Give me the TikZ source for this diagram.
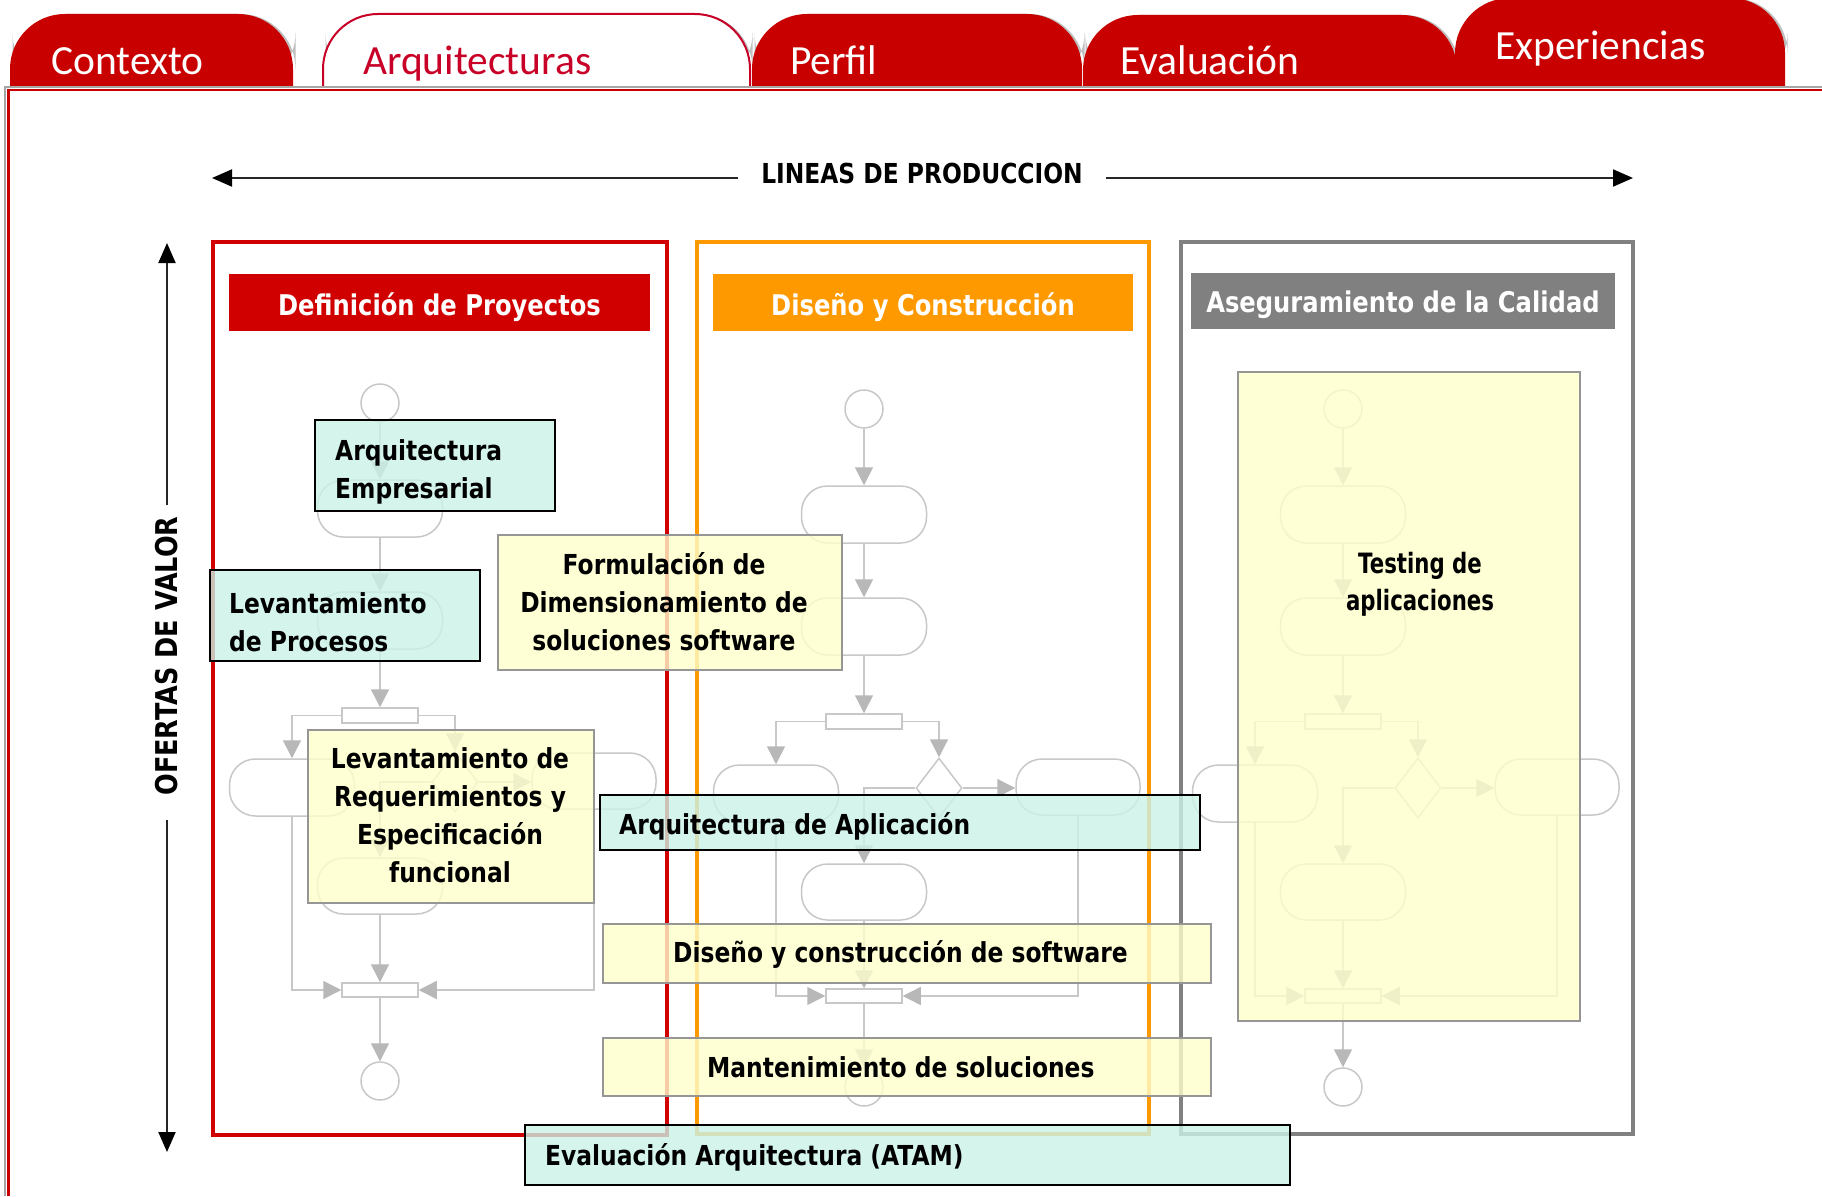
\documentclass[tikz,border=0pt]{standalone}
\usepackage{fontspec}
\setmainfont{DejaVu Sans}
\newfontfamily\tah[FakeStretch=0.85]{DejaVu Sans}
\newfontfamily\tahn[FakeStretch=0.76]{DejaVu Sans}
\newfontfamily\calf{Carlito}
\usetikzlibrary{arrows.meta,shapes.geometric}
\definecolor{tabred}{RGB}{200,0,0}
\definecolor{arqred}{RGB}{200,0,40}
\definecolor{lanered}{RGB}{208,0,0}
\definecolor{orng}{RGB}{255,153,0}
\definecolor{lanegray}{RGB}{128,128,128}
\definecolor{mint}{RGB}{202,242,232}
\definecolor{paleyel}{RGB}{255,255,204}
\definecolor{boxgray}{RGB}{150,150,150}
\definecolor{flowgray}{RGB}{200,200,200}
\definecolor{arrgray}{RGB}{184,184,184}
\definecolor{tabshadow}{RGB}{190,190,190}
\tikzset{
  flowline/.style={draw=flowgray, line width=1.5pt},
  flowarr/.style={flowline, -{Triangle[length=18pt,width=18pt,color=arrgray]}},
  act/.style={draw=flowgray, line width=1.5pt, rounded corners=26pt, minimum width=125pt, minimum height=57pt, inner sep=0},
  startc/.style={circle, draw=flowgray, line width=1.5pt, minimum size=38pt, inner sep=0},
  bar/.style={rectangle, draw=flowgray, fill=white, line width=1.5pt, minimum width=76pt, minimum height=15pt, inner sep=0},
  dec/.style={diamond, draw=flowgray, line width=1.5pt, minimum width=46pt, minimum height=60pt, inner sep=0},
  lane/.style={rectangle, line width=4pt, inner sep=0},
  hdr/.style={rectangle, inner sep=0, text=white, text depth=0pt, font=\tah\bfseries\fontsize{28.5}{34}\selectfont},
  mintbox/.style={rectangle, draw=black, line width=2.5pt, fill=mint, fill opacity=0.8, inner sep=0},
  yelbox/.style={rectangle, draw=boxgray, line width=2pt, fill=paleyel, fill opacity=0.8, inner sep=0},
  lbl/.style={inner sep=0, text=black, font=\tah\bfseries\fontsize{27.5}{38}\selectfont},
  tablbl/.style={inner sep=0, font=\calf\fontsize{41.5}{48}\selectfont},
  bigarr/.style={draw=black!85, line width=2pt, -{Triangle[length=20pt,width=17pt,color=black]}},
  axislbl/.style={inner sep=0, text=black, font=\tah\bfseries\fontsize{27.5}{32}\selectfont}
}
\newcommand\actflow[3]{%
\begin{scope}[shift={(#2,#3)}, name prefix=#1-]
  \node[startc] (s) at (0,409) {};
  \node[act] (a1) at (0,514.5) {};
  \node[act] (a2) at (0,626.5) {};
  \node[bar] (fk) at (0,721.5) {};
  \node[act] (la) at (-88,793.5) {};
  \node[dec] (dm) at (75,788) {};
  \node[act, minimum width=124pt, minimum height=56pt] (ra) at (214,787) {};
  \node[act, minimum height=56pt] (lo) at (0,892) {};
  \node[bar, minimum height=14pt] (jn) at (0,996) {};
  \node[startc] (e) at (0,1087) {};
  \draw[flowarr] (s) -- (a1);
  \draw[flowarr] (a1) -- (a2);
  \draw[flowarr] (a2) -- (fk);
  \draw[flowarr] (fk.west) -| (la.north);
  \draw[flowarr] (fk.east) -| (dm.north);
  \draw[flowarr] (dm.east) -- (dm.east -| ra.west);
  \draw[flowarr] (dm.west) -| (lo.north);
  \draw[flowarr] (la.south) |- (jn.west);
  \draw[flowarr] (ra.south) |- (jn.east);
  \draw[flowarr] (lo) -- (jn);
  \draw[flowarr] (jn) -- (e);
\end{scope}}
\newcommand\tabpath[4]{%
  \fill[tabshadow, rounded corners=55pt] (#1+2.5,88) -- (#1+2.5,#3) -- (#2+2.5,#3) -- (#2+2.5,88) -- cycle;
  \path[#4, rounded corners=55pt] (#1,88) -- (#1,#3) -- (#2,#3) -- (#2,88);}
\begin{document}
\begin{tikzpicture}[x=1pt,y=-1pt]
\useasboundingbox (0,0) rectangle (1822,1196);
\fill[white] (0,0) rectangle (1822,1196);

% tabs
\tabpath{10}{293}{14}{fill=tabred}
\tabpath{323}{750}{14}{fill=white, draw=arqred, line width=2pt}
\tabpath{752}{1082}{14}{fill=tabred}
\tabpath{1083}{1457}{15}{fill=tabred}
\tabpath{1455}{1785}{-2}{fill=tabred}
\node[tablbl, text=white, anchor=base west] (t1) at (51,75) {Contexto};
\node[tablbl, text=arqred, anchor=base west] (t2) at (363,75) {Arquitecturas};
\node[tablbl, text=white, anchor=base west] (t3) at (790,75) {Perfil};
\node[tablbl, text=white, anchor=base west] (t4) at (1120,75) {Evaluación};
\node[tablbl, text=white, anchor=base west] (t5) at (1495,60) {Experiencias};

% frame
\draw[gray!70, line width=2.5pt] (5,1196) -- (5,87) -- (1822,87);
\draw[tabred, line width=2.5pt] (8.5,1196) -- (8.5,90) -- (1822,90);

% axes
\node[axislbl, inner xsep=23pt] (lineas) at (922,173.5) {LINEAS DE PRODUCCION};
\coordinate (lpL) at (212,178);
\coordinate (lpR) at (1633,178);
\draw[bigarr] (lineas.west |- lpL) -- (lpL);
\draw[bigarr] (lineas.east |- lpR) -- (lpR);
\node[axislbl, rotate=90, font=\tah\bfseries\fontsize{30}{34}\selectfont] (ofertas) at (167,656) {OFERTAS DE VALOR};
\coordinate (ovT) at (167,505);
\coordinate (ovTip) at (167,243);
\coordinate (ovB) at (167,820);
\coordinate (ovBtip) at (167,1152);
\draw[bigarr] (ovT) -- (ovTip);
\draw[bigarr] (ovB) -- (ovBtip);

% lanes
\node[lane, draw=lanered, minimum width=454pt, minimum height=893pt] (lane1) at (440,688.5) {};
\node[lane, draw=orng, minimum width=452pt, minimum height=892pt] (lane2) at (923,688) {};
\node[lane, draw=lanegray, minimum width=452pt, minimum height=892pt] (lane3) at (1407,688) {};
\node[hdr, fill=lanered, minimum width=421pt, minimum height=57pt, text height=25pt] (h1) at (439.5,302.5) {Definición de Proyectos};
\node[hdr, fill=orng, minimum width=420pt, minimum height=57pt, text height=25pt] (h2) at (923,302.5) {Diseño y Construcción};
\node[hdr, fill=lanegray, minimum width=424pt, minimum height=56pt, text height=22pt] (h3) at (1403,301) {Aseguramiento de la Calidad};

% activity flows
\actflow{L}{380}{-6}
\actflow{M}{864}{0}
\actflow{R}{1343}{0}

% overlay boxes
\node[mintbox, minimum width=240pt, minimum height=91pt] (ae) at (435,465.5) {};
\node[mintbox, minimum width=270pt, minimum height=91pt] (lp) at (345,615.5) {};
\node[yelbox, minimum width=344pt, minimum height=135pt] (fm) at (670,602.5) {};
\node[yelbox, minimum width=286pt, minimum height=173pt] (lr) at (451,816.5) {};
\node[mintbox, minimum width=600pt, minimum height=55pt] (aa) at (900,822.5) {};
\node[yelbox, minimum width=608pt, minimum height=59pt] (dc) at (907,953.5) {};
\node[yelbox, minimum width=608pt, minimum height=58pt] (ms) at (907,1067) {};
\node[mintbox, minimum width=765pt, minimum height=60pt] (atam) at (907.5,1155) {};
\node[yelbox, minimum width=342pt, minimum height=649pt] (ts) at (1409,696.5) {};

% labels
\node[lbl, align=left, anchor=west] (aeT) at (335,472) {Arquitectura\\Empresarial};
\node[lbl, align=left, anchor=west] (lpT) at (229,622) {Levantamiento\\de Procesos};
\node[lbl, align=center] (fmT) at (664,601.5) {Formulación de\\Dimensionamiento de\\soluciones software};
\node[lbl, align=center] (lrT) at (450,815) {Levantamiento de\\Requerimientos y\\Especificación\\funcional};
\node[lbl, anchor=base west] (aaT) at (619,834) {Arquitectura de Aplicación};
\node[lbl, anchor=base west] (dcT) at (673,962) {Diseño y construcción de software};
\node[lbl, anchor=base west] (msT) at (707,1077) {Mantenimiento de soluciones};
\node[lbl, anchor=base west] (atamT) at (545,1165) {Evaluación Arquitectura (ATAM)};
\node[lbl, align=center, font=\tahn\bfseries\fontsize{28}{37}\selectfont] (tsT) at (1420,584) {Testing de\\aplicaciones};
\end{tikzpicture}
\end{document}
